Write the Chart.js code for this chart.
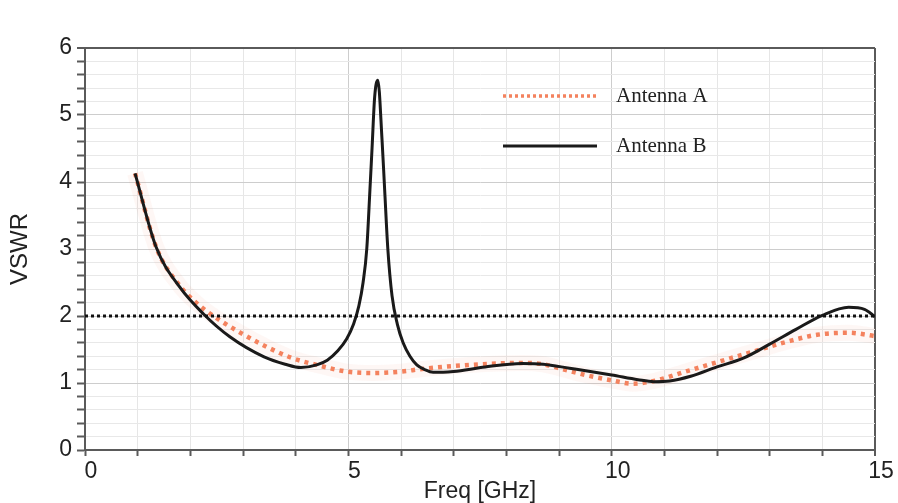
<!DOCTYPE html>
<html>
<head>
<meta charset="utf-8">
<script src="https://cdn.jsdelivr.net/npm/chart.js@4.4.1/dist/chart.umd.min.js"></script>
<style>
  body { margin: 0; background: #fff; }
  #wrap { width: 898px; height: 503px; }
</style>
</head>
<body>
<div id="wrap"><canvas id="vswrChart" width="898" height="503"></canvas></div>
<script>
// Antenna A (dotted orange)
const freqA = [0.95, 1.35, 1.8, 2.11, 2.42, 2.93, 3.45, 3.94, 4.4, 4.97, 5.47, 6.0, 6.4, 7.3, 8.3, 8.7, 9.1, 9.5, 10.0, 10.4, 10.8, 11.4, 12.0, 12.65, 13.3, 13.9, 14.5, 15.0];
const vswrA = [4.13, 3.03, 2.45, 2.2, 2.01, 1.76, 1.54, 1.37, 1.27, 1.17, 1.15, 1.17, 1.21, 1.27, 1.3, 1.28, 1.2, 1.12, 1.04, 0.99, 1.03, 1.17, 1.31, 1.46, 1.61, 1.72, 1.75, 1.7];

// Antenna B (solid black)
const freqB = [0.95, 1.35, 1.8, 2.25, 2.75, 3.4, 3.8, 4.1, 4.4, 4.6, 4.8, 4.97, 5.1, 5.2, 5.28, 5.35, 5.41, 5.45, 5.5, 5.56, 5.64, 5.69, 5.75, 5.83, 5.93, 6.04, 6.17, 6.3, 6.45, 6.61, 6.8, 7.0, 7.6, 8.3, 8.7, 9.2, 10.0, 10.5, 10.8, 11.1, 11.5, 12.0, 12.5, 13.0, 13.5, 14.0, 14.5, 14.8, 15.0];
const vswrB = [4.13, 3.03, 2.43, 2.03, 1.69, 1.39, 1.28, 1.23, 1.27, 1.34, 1.48, 1.66, 1.88, 2.15, 2.5, 3.0, 3.88, 4.5, 5.27, 5.52, 4.63, 3.88, 3.0, 2.3, 1.88, 1.6, 1.4, 1.27, 1.2, 1.16, 1.16, 1.17, 1.24, 1.29, 1.28, 1.22, 1.12, 1.05, 1.02, 1.03, 1.1, 1.24, 1.37, 1.58, 1.8, 2.01, 2.13, 2.1, 1.99];

// VSWR = 2 reference
const refFreq = [0, 15];
const refVswr = [2, 2];

const legendItems = ['Antenna A', 'Antenna B'];

const toPoints = (xs, ys) => xs.map((x, i) => ({ x: x, y: ys[i] }));

const isMultiple = (v, step) => Math.abs(v / step - Math.round(v / step)) < 1e-6;

// hand-drawn legend like the original plot
const legendPlugin = {
    id: 'sideLegend',
    afterDraw(chart) {
        const ctx = chart.ctx;
        const rows = [
            { y: 96, color: '#f4825e', width: 3.5, dash: [3, 3] },
            { y: 146, color: '#1a1a1a', width: 3, dash: [] },
        ];
        ctx.save();
        rows.forEach((row, i) => {
            ctx.beginPath();
            ctx.setLineDash(row.dash);
            ctx.strokeStyle = row.color;
            ctx.lineWidth = row.width;
            ctx.moveTo(503, row.y);
            ctx.lineTo(597, row.y);
            ctx.stroke();
            ctx.setLineDash([]);
            ctx.fillStyle = '#222';
            ctx.font = '21px "Liberation Serif"';
            ctx.textBaseline = 'middle';
            ctx.fillText(legendItems[i], 616, row.y);
        });
        ctx.restore();
    }
};

const config = {
    type: 'line',
    data: {
        datasets: [
            {
                label: 'halo',
                data: toPoints(freqA, vswrA),
                borderColor: 'rgba(244, 140, 110, 0.07)',
                borderWidth: 16,
                pointRadius: 0,
                cubicInterpolationMode: 'monotone',
                order: 4,
            },
            {
                label: legendItems[0],
                data: toPoints(freqA, vswrA),
                borderColor: '#f4825e',
                borderWidth: 4.5,
                borderDash: [4, 5],
                pointRadius: 0,
                cubicInterpolationMode: 'monotone',
                order: 3,
            },
            {
                label: legendItems[1],
                data: toPoints(freqB, vswrB),
                borderColor: '#1a1a1a',
                borderWidth: 3,
                pointRadius: 0,
                cubicInterpolationMode: 'monotone',
                order: 2,
            },
            {
                label: 'VSWR 2',
                data: toPoints(refFreq, refVswr),
                borderColor: '#111',
                borderWidth: 3,
                borderDash: [3, 3],
                pointRadius: 0,
                order: 1,
            },
        ],
    },
    options: {
        responsive: false,
        animation: false,
        layout: { padding: { left: 0, top: 48, right: 23, bottom: 0 } },
        plugins: {
            legend: { display: false },
            tooltip: { enabled: false },
        },
        scales: {
            x: {
                type: 'linear',
                min: 0,
                max: 15,
                afterFit: (scale) => { scale.height = 53; },
                border: { color: '#5a5a5a', width: 2 },
                grid: {
                    color: (c) => {
                        const v = c.tick.value;
                        if (v === 15) return '#5a5a5a';
                        return isMultiple(v, 5) ? '#cdcdcd' : '#e6e6e6';
                    },
                    lineWidth: (c) => (c.tick.value === 15 ? 2 : 1),
                    tickColor: '#5a5a5a',
                    tickLength: 6,
                    tickWidth: 2,
                },
                ticks: {
                    stepSize: 1,
                    autoSkip: false,
                    maxRotation: 0,
                    labelOffset: 6,
                    padding: 2,
                    color: '#222',
                    font: { family: '"Liberation Sans", Arial', size: 23 },
                    callback: (v) => (isMultiple(v, 5) ? String(Math.round(v)) : ''),
                },
                title: {
                    display: true,
                    text: 'Freq [GHz]',
                    color: '#222',
                    font: { family: '"Liberation Sans", Arial', size: 23, lineHeight: 1 },
                    padding: 0,
                },
            },
            y: {
                min: 0,
                max: 6,
                afterFit: (scale) => { scale.width = 85; },
                border: { color: '#5a5a5a', width: 2 },
                grid: {
                    color: (c) => {
                        const v = c.tick.value;
                        if (isMultiple(v, 6) && v > 0) return '#5a5a5a';
                        return isMultiple(v, 1) ? '#cdcdcd' : '#e8e8e8';
                    },
                    lineWidth: (c) => (c.tick.value > 5.99 ? 2 : 1),
                    tickColor: '#5a5a5a',
                    tickLength: 8,
                    tickWidth: 2,
                },
                ticks: {
                    stepSize: 0.2,
                    autoSkip: false,
                    padding: 5,
                    color: '#222',
                    font: { family: '"Liberation Sans", Arial', size: 23 },
                    callback: (v) => (isMultiple(v, 1) ? String(Math.round(v)) : ''),
                },
                title: {
                    display: true,
                    text: 'VSWR',
                    color: '#222',
                    font: { family: '"Liberation Sans", Arial', size: 24, lineHeight: 1 },
                    padding: { top: 8, bottom: 0 },
                },
            },
        },
    },
    plugins: [legendPlugin],
};

document.addEventListener('DOMContentLoaded', () => {
    const $chart = document.getElementById('vswrChart');
    new Chart($chart, config);
});
</script>
</body>
</html>
